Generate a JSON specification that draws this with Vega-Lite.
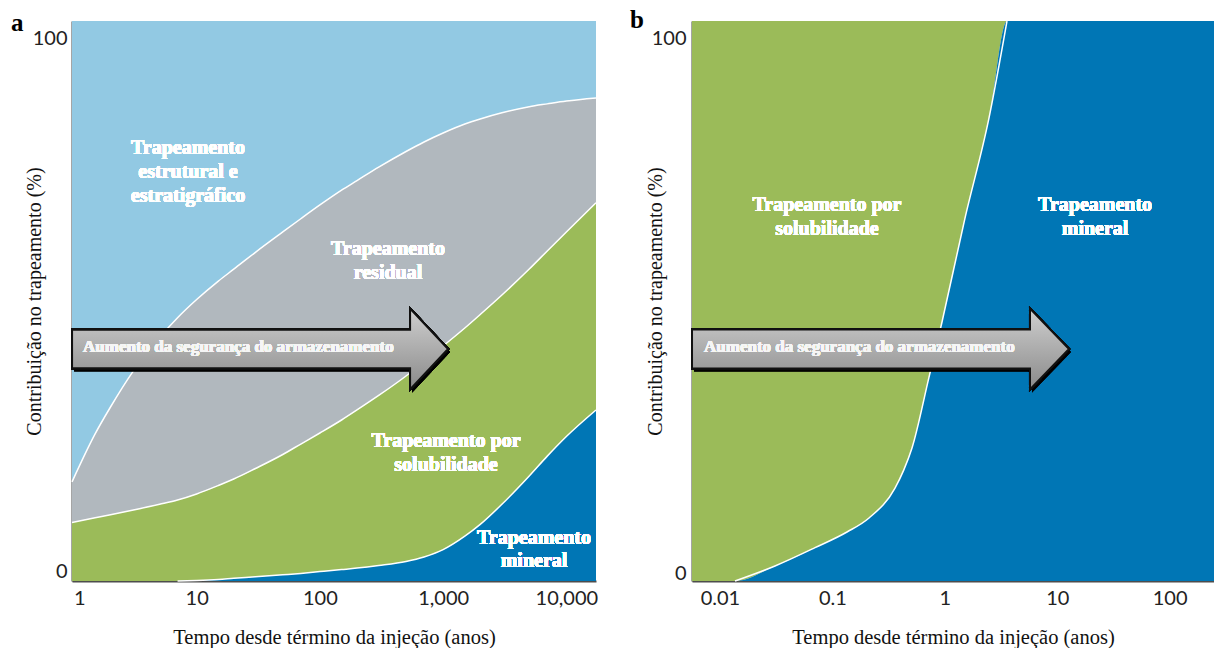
{
  "$schema": "https://vega.github.io/schema/vega-lite/v6.json",
  "padding": {"left": 11, "top": 8, "right": 0, "bottom": 0},
  "spacing": 31,
  "background": "white",
  "config": {
    "view": {"stroke": null},
    "axis": {"domainColor": "#4d4d4d", "domainWidth": 2, "ticks": false, "grid": false, "labelFont": "Lato", "labelFontSize": 20, "labelColor": "#222222", "titleFont": "Liberation Serif", "titleFontSize": 20.5, "titleFontWeight": "normal", "titleColor": "#111111", "zindex": 1},
    "title": {"font": "Liberation Serif", "fontSize": 25, "fontWeight": "bold", "color": "#000000"}
  },
  "datasets": {
    "a": [
      {"t": 0.974, "lim_mineral": 0, "lim_solub": 10.46, "lim_resid": 17.7},
      {"t": 1.5, "lim_mineral": 0, "lim_solub": 11.29, "lim_resid": 26.27},
      {"t": 2, "lim_mineral": 0, "lim_solub": 11.84, "lim_resid": 31.07},
      {"t": 3, "lim_mineral": 0, "lim_solub": 12.64, "lim_resid": 37.21},
      {"t": 5, "lim_mineral": 0, "lim_solub": 13.7, "lim_resid": 43.49},
      {"t": 7, "lim_mineral": 0, "lim_solub": 14.46, "lim_resid": 47.02},
      {"t": 10, "lim_mineral": 0.09, "lim_solub": 15.54, "lim_resid": 50.26},
      {"t": 15, "lim_mineral": 0.27, "lim_solub": 17.05, "lim_resid": 53.56},
      {"t": 20, "lim_mineral": 0.48, "lim_solub": 18.21, "lim_resid": 55.68},
      {"t": 30, "lim_mineral": 0.75, "lim_solub": 20.09, "lim_resid": 58.7},
      {"t": 50, "lim_mineral": 1.11, "lim_solub": 22.59, "lim_resid": 62.33},
      {"t": 70, "lim_mineral": 1.36, "lim_solub": 24.46, "lim_resid": 64.69},
      {"t": 100, "lim_mineral": 1.68, "lim_solub": 26.43, "lim_resid": 67.15},
      {"t": 150, "lim_mineral": 2.04, "lim_solub": 28.75, "lim_resid": 69.8},
      {"t": 200, "lim_mineral": 2.3, "lim_solub": 30.54, "lim_resid": 71.5},
      {"t": 300, "lim_mineral": 2.77, "lim_solub": 33.13, "lim_resid": 73.9},
      {"t": 500, "lim_mineral": 3.5, "lim_solub": 36.61, "lim_resid": 76.7},
      {"t": 700, "lim_mineral": 4.3, "lim_solub": 39.11, "lim_resid": 78.4},
      {"t": 1000, "lim_mineral": 5.6, "lim_solub": 41.96, "lim_resid": 80.0},
      {"t": 1500, "lim_mineral": 8.0, "lim_solub": 45.18, "lim_resid": 81.6},
      {"t": 2000, "lim_mineral": 10.1, "lim_solub": 47.59, "lim_resid": 82.5},
      {"t": 3000, "lim_mineral": 13.7, "lim_solub": 51.07, "lim_resid": 83.6},
      {"t": 5000, "lim_mineral": 18.75, "lim_solub": 55.71, "lim_resid": 84.7},
      {"t": 7000, "lim_mineral": 22.3, "lim_solub": 58.93, "lim_resid": 85.2},
      {"t": 10000, "lim_mineral": 25.8, "lim_solub": 62.32, "lim_resid": 85.7},
      {"t": 17400, "lim_mineral": 30.54, "lim_solub": 67.55, "lim_resid": 86.25}
    ],
    "b": [
      {"t": 0.00564, "lim_mineral": 0},
      {"t": 0.01361, "lim_mineral": 0},
      {"t": 0.03088, "lim_mineral": 2.68},
      {"t": 0.07005, "lim_mineral": 5.95},
      {"t": 0.1349, "lim_mineral": 8.75},
      {"t": 0.2118, "lim_mineral": 11.25},
      {"t": 0.3606, "lim_mineral": 16.6},
      {"t": 0.431, "lim_mineral": 19.8},
      {"t": 0.5107, "lim_mineral": 23.75},
      {"t": 0.7236, "lim_mineral": 36.4},
      {"t": 0.9443, "lim_mineral": 46.25},
      {"t": 1.512, "lim_mineral": 64.8},
      {"t": 2.473, "lim_mineral": 82.7},
      {"t": 3.575, "lim_mineral": 100},
      {"t": 248, "lim_mineral": 100}
    ]
  },
  "hconcat": [
    {
      "width": 524,
      "height": 560,
      "title": {"text": "a", "anchor": "start", "frame": "group", "dx": -61, "dy": 35, "offset": 0, "baseline": "alphabetic"},
      "data": {"name": "a"},
      "layer": [
        {
          "mark": {"type": "area", "interpolate": "monotone", "color": "#92C9E3", "opacity": 1},
          "encoding": {
            "x": {"field": "t", "type": "quantitative", "scale": {"type": "log", "domain": [0.974, 17400], "nice": false},
              "axis": {"values": [1, 10, 100, 1000, 10000], "format": ",", "labelBaseline": "alphabetic", "labelPadding": 23, "labelFlush": 2, "labelOverlap": false, "title": "Tempo desde término da injeção (anos)", "titleFont": "Liberation Serif", "titleFontSize": 20.5, "titleBaseline": "alphabetic", "titleY": 62}},
            "y": {"field": "lim_resid", "type": "quantitative", "scale": {"domain": [0, 100], "nice": false, "zero": false},
              "axis": {"values": [0, 100], "labelPadding": 5, "labelOffset": {"condition": {"test": "datum.value == 0", "value": -10}, "value": 17}, "title": "Contribuição no trapeamento (%)", "titleFont": "Liberation Serif", "titleFontSize": 20, "titleX": -32, "titleBaseline": "alphabetic"}},
            "y2": {"datum": 100}
          }
        },
        {
          "mark": {"type": "area", "interpolate": "monotone", "color": "#B1B8BE", "opacity": 1},
          "encoding": {
            "x": {"field": "t", "type": "quantitative"},
            "y": {"field": "lim_resid", "type": "quantitative"},
            "y2": {"field": "lim_solub"}
          }
        },
        {
          "mark": {"type": "area", "interpolate": "monotone", "color": "#9BBB59", "opacity": 1},
          "encoding": {
            "x": {"field": "t", "type": "quantitative"},
            "y": {"field": "lim_solub", "type": "quantitative"},
            "y2": {"field": "lim_mineral"}
          }
        },
        {
          "mark": {"type": "area", "interpolate": "monotone", "color": "#0076B5", "opacity": 1},
          "encoding": {
            "x": {"field": "t", "type": "quantitative"},
            "y": {"field": "lim_mineral", "type": "quantitative"},
            "y2": {"datum": 0}
          }
        },
        {
          "mark": {"type": "line", "interpolate": "monotone", "color": "white", "strokeWidth": 1.5},
          "encoding": {"x": {"field": "t", "type": "quantitative"}, "y": {"field": "lim_resid", "type": "quantitative"}}
        },
        {
          "mark": {"type": "line", "interpolate": "monotone", "color": "white", "strokeWidth": 1.5},
          "encoding": {"x": {"field": "t", "type": "quantitative"}, "y": {"field": "lim_solub", "type": "quantitative"}}
        },
        {
          "transform": [{"filter": "datum.t >= 7"}],
          "mark": {"type": "line", "interpolate": "monotone", "color": "white", "strokeWidth": 1.5},
          "encoding": {"x": {"field": "t", "type": "quantitative"}, "y": {"field": "lim_mineral", "type": "quantitative"}}
        },
        {
          "mark": {"type": "point", "shape": "M-1,-0.103L0.798,-0.103L0.798,-0.215L1,0L0.798,0.215L0.798,0.103L-1,0.103Z", "size": 141376, "filled": true, "fill": "#000000", "fillOpacity": 0.22, "strokeWidth": 0, "opacity": 1, "xOffset": 2, "yOffset": 3},
          "encoding": {"x": {"datum": 32.7}, "y": {"datum": 41.43}}
        },
        {
          "mark": {"type": "point", "shape": "M-1,-0.103L0.798,-0.103L0.798,-0.215L1,0L0.798,0.215L0.798,0.103L-1,0.103Z", "size": 141376, "filled": true, "fill": {"gradient": "linear", "x1": 0, "y1": 0, "x2": 0, "y2": 1, "stops": [{"offset": 0, "color": "#cfcfcf"}, {"offset": 1, "color": "#8a8a8a"}]}, "stroke": "#111111", "strokeWidth": 2, "opacity": 1},
          "encoding": {"x": {"datum": 32.7}, "y": {"datum": 41.43}}
        },
        {
          "mark": {"type": "text", "font": "Liberation Serif", "fontSize": 17, "fontWeight": "bold", "color": "#f6f6f6", "align": "left", "baseline": "middle"},
          "encoding": {"x": {"datum": 1.196}, "y": {"datum": 41.79}, "text": {"value": "Aumento da segurança do armazenamento"}}
        },
        {
          "mark": {"type": "text", "font": "Liberation Serif", "fontSize": 20, "fontWeight": "bold", "color": "#ffffff", "align": "center", "baseline": "middle", "lineHeight": 24},
          "encoding": {"x": {"datum": 8.51}, "y": {"datum": 77.32}, "text": {"value": ["Trapeamento", "estrutural e", "estratigráfico"]}}
        },
        {
          "mark": {"type": "text", "font": "Liberation Serif", "fontSize": 20, "fontWeight": "bold", "color": "#ffffff", "align": "center", "baseline": "middle", "lineHeight": 24},
          "encoding": {"x": {"datum": 357}, "y": {"datum": 59.29}, "text": {"value": ["Trapeamento", "residual"]}}
        },
        {
          "mark": {"type": "text", "font": "Liberation Serif", "fontSize": 20, "fontWeight": "bold", "color": "#ffffff", "align": "center", "baseline": "middle", "lineHeight": 24},
          "encoding": {"x": {"datum": 1055}, "y": {"datum": 25.0}, "text": {"value": ["Trapeamento por", "solubilidade"]}}
        },
        {
          "mark": {"type": "text", "font": "Liberation Serif", "fontSize": 20, "fontWeight": "bold", "color": "#ffffff", "align": "center", "baseline": "middle", "lineHeight": 23},
          "encoding": {"x": {"datum": 5463}, "y": {"datum": 7.68}, "text": {"value": ["Trapeamento", "mineral"]}}
        }
      ]
    },
    {
      "width": 522,
      "height": 560,
      "title": {"text": "b", "anchor": "start", "frame": "group", "dx": -62, "dy": 35, "offset": 0, "baseline": "alphabetic"},
      "data": {"name": "b"},
      "layer": [
        {
          "mark": {"type": "area", "interpolate": "monotone", "color": "#9BBB59", "opacity": 1},
          "encoding": {
            "x": {"field": "t", "type": "quantitative", "scale": {"type": "log", "domain": [0.00564, 248], "nice": false},
              "axis": {"values": [0.01, 0.1, 1, 10, 100], "format": "~g", "labelBaseline": "alphabetic", "labelPadding": 23, "labelFlush": false, "labelOverlap": false, "title": "Tempo desde término da injeção (anos)", "titleFont": "Liberation Serif", "titleFontSize": 20.5, "titleBaseline": "alphabetic", "titleY": 62}},
            "y": {"field": "lim_mineral", "type": "quantitative", "scale": {"domain": [0, 100], "nice": false, "zero": false},
              "axis": {"values": [0, 100], "labelPadding": 6, "labelOffset": {"condition": {"test": "datum.value == 0", "value": -8}, "value": 17}, "title": "Contribuição no trapeamento (%)", "titleFont": "Liberation Serif", "titleFontSize": 20, "titleX": -31, "titleBaseline": "alphabetic"}},
            "y2": {"datum": 100}
          }
        },
        {
          "mark": {"type": "area", "interpolate": "monotone", "color": "#0076B5", "opacity": 1},
          "encoding": {
            "x": {"field": "t", "type": "quantitative"},
            "y": {"field": "lim_mineral", "type": "quantitative"},
            "y2": {"datum": 0}
          }
        },
        {
          "transform": [{"filter": "datum.t >= 0.0136 && datum.t < 3.6"}],
          "mark": {"type": "line", "interpolate": "monotone", "color": "white", "strokeWidth": 1.5},
          "encoding": {"x": {"field": "t", "type": "quantitative"}, "y": {"field": "lim_mineral", "type": "quantitative"}}
        },
        {
          "mark": {"type": "point", "shape": "M-1,-0.103L0.793,-0.103L0.793,-0.215L1,0L0.793,0.215L0.793,0.103L-1,0.103Z", "size": 142129, "filled": true, "fill": "#000000", "fillOpacity": 0.22, "strokeWidth": 0, "opacity": 1, "xOffset": 2, "yOffset": 3},
          "encoding": {"x": {"datum": 0.268}, "y": {"datum": 41.43}}
        },
        {
          "mark": {"type": "point", "shape": "M-1,-0.103L0.793,-0.103L0.793,-0.215L1,0L0.793,0.215L0.793,0.103L-1,0.103Z", "size": 142129, "filled": true, "fill": {"gradient": "linear", "x1": 0, "y1": 0, "x2": 0, "y2": 1, "stops": [{"offset": 0, "color": "#cfcfcf"}, {"offset": 1, "color": "#8a8a8a"}]}, "stroke": "#111111", "strokeWidth": 2, "opacity": 1},
          "encoding": {"x": {"datum": 0.268}, "y": {"datum": 41.43}}
        },
        {
          "mark": {"type": "text", "font": "Liberation Serif", "fontSize": 17, "fontWeight": "bold", "color": "#f6f6f6", "align": "left", "baseline": "middle"},
          "encoding": {"x": {"datum": 0.00721}, "y": {"datum": 41.79}, "text": {"value": "Aumento da segurança do armazenamento"}}
        },
        {
          "mark": {"type": "text", "font": "Liberation Serif", "fontSize": 20, "fontWeight": "bold", "color": "#ffffff", "align": "center", "baseline": "middle", "lineHeight": 24},
          "encoding": {"x": {"datum": 0.0895}, "y": {"datum": 67.14}, "text": {"value": ["Trapeamento por", "solubilidade"]}}
        },
        {
          "mark": {"type": "text", "font": "Liberation Serif", "fontSize": 20, "fontWeight": "bold", "color": "#ffffff", "align": "center", "baseline": "middle", "lineHeight": 24},
          "encoding": {"x": {"datum": 21.7}, "y": {"datum": 67.14}, "text": {"value": ["Trapeamento", "mineral"]}}
        }
      ]
    }
  ]
}
